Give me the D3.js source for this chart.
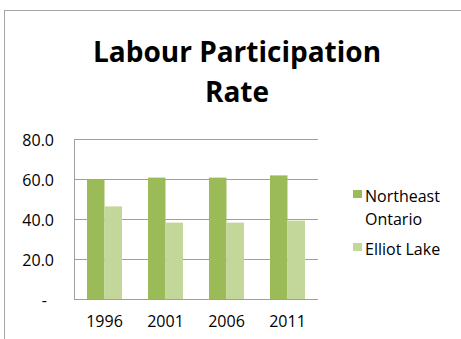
<!DOCTYPE html>
<html>
<head>
<meta charset="utf-8">
<script src="https://cdn.jsdelivr.net/npm/d3@7"></script>
<style>
  html, body { margin: 0; padding: 0; background: #fff; }
  svg { display: block; font-family: "Open Sans", sans-serif; }
</style>
</head>
<body>
<svg id="chart" width="461" height="339"></svg>
<script>
// Labour participation rate (%), by census year
const years = ["1996", "2001", "2006", "2011"];
const seriesNames = ["Northeast Ontario", "Elliot Lake"];
const northeastOntario = [59.8, 60.7, 60.7, 61.8];
const elliotLake = [46.3, 38.2, 38.2, 39.2];
const yTicks = [0, 20, 40, 60, 80];
const colors = ["#9bbb59", "#c4d79b"];

const series = [northeastOntario, elliotLake];
const svg = d3.select("#chart");

// Outer chart frame
svg.append("rect")
  .attr("x", 4.5).attr("y", 10.5)
  .attr("width", 480).attr("height", 360)
  .attr("fill", "none").attr("stroke", "#a6a6a6").attr("stroke-width", 1);

// Title
const title = svg.append("text")
  .attr("text-anchor", "middle")
  .attr("font-weight", "bold")
  .attr("font-size", 28)
  .attr("fill", "#000");
title.append("tspan").attr("x", 237).attr("y", 62).text("Labour Participation");
title.append("tspan").attr("x", 237).attr("y", 102).text("Rate");

// Plot area
const plot = { left: 74, right: 318, top: 139, bottom: 299 };

const x0 = d3.scaleBand()
  .domain(years)
  .range([plot.left, plot.right])
  .paddingInner(0.426)
  .paddingOuter(0.213);

const x1 = d3.scaleBand()
  .domain(d3.range(series.length))
  .range([0, x0.bandwidth()])
  .padding(0);

const y = d3.scaleLinear()
  .domain([0, 80])
  .range([plot.bottom, plot.top]);

// Horizontal gridlines
svg.append("g")
  .selectAll("line")
  .data(yTicks)
  .join("line")
  .attr("x1", plot.left)
  .attr("x2", plot.right)
  .attr("y1", d => Math.round(y(d)) + 0.5)
  .attr("y2", d => Math.round(y(d)) + 0.5)
  .attr("stroke", "#a0a0a0")
  .attr("stroke-width", 1);

// Vertical axis line
svg.append("line")
  .attr("x1", plot.left + 0.5).attr("x2", plot.left + 0.5)
  .attr("y1", plot.top).attr("y2", plot.bottom + 1)
  .attr("stroke", "#a0a0a0");

// Bars
const groups = svg.append("g")
  .selectAll("g")
  .data(years)
  .join("g")
  .attr("transform", d => `translate(${x0(d)},0)`);

groups.selectAll("rect")
  .data((d, i) => series.map((s, k) => ({ k, v: s[i] })))
  .join("rect")
  .attr("x", d => x1(d.k))
  .attr("width", x1.bandwidth())
  .attr("y", d => y(d.v))
  .attr("height", d => y(0) - y(d.v))
  .attr("fill", d => colors[d.k]);

// Y tick labels (zero shown as a dash)
svg.append("g")
  .selectAll("text")
  .data(yTicks)
  .join("text")
  .attr("x", d => d === 0 ? 47 : 54)
  .attr("y", d => y(d) + 7)
  .attr("text-anchor", "end")
  .attr("font-size", 16)
  .attr("fill", "#000")
  .text(d => d === 0 ? "-" : d3.format(".1f")(d));

// X tick labels
svg.append("g")
  .selectAll("text")
  .data(years)
  .join("text")
  .attr("x", d => x0(d) + x0.bandwidth() / 2)
  .attr("y", 327)
  .attr("text-anchor", "middle")
  .attr("font-size", 16)
  .attr("fill", "#000")
  .text(d => d);

// Legend
const legendRows = [
  { name: seriesNames[0], lines: ["Northeast", "Ontario"], y: 190 },
  { name: seriesNames[1], lines: ["Elliot Lake"], y: 243 }
];
const legend = svg.append("g");
legendRows.forEach((row, i) => {
  legend.append("rect")
    .attr("x", 353).attr("y", row.y)
    .attr("width", 9).attr("height", 8)
    .attr("fill", colors[i]);
  const t = legend.append("text")
    .attr("font-size", 16)
    .attr("fill", "#000");
  row.lines.forEach((ln, j) => {
    t.append("tspan").attr("x", 365).attr("y", row.y + 12 + j * 23).text(ln);
  });
});
</script>
</body>
</html>
